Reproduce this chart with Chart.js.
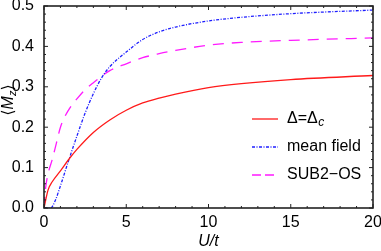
<!DOCTYPE html>
<html>
<head>
<meta charset="utf-8">
<script src="https://cdn.jsdelivr.net/npm/chart.js@4"></script>
<style>
  html, body { margin: 0; padding: 0; background: #fff; }
  canvas { display: block; }
</style>
</head>
<body>
<canvas id="chart" width="381" height="251"></canvas>
<script>
// U/t values and <Mz>
const uDelta = [0, 0.25, 0.5, 1, 1.5, 2, 3, 4, 5, 6, 7, 8, 10, 12, 15, 20];
const mDelta = [0, 0.045, 0.065, 0.092, 0.12, 0.145, 0.187, 0.218, 0.242, 0.26, 0.272, 0.282, 0.298, 0.308, 0.318, 0.328];

const uMean = [0, 0.4, 0.7, 1, 1.5, 2, 2.5, 3, 3.5, 4, 5, 6, 7, 8, 10, 12, 15, 20];
const mMean = [0, 0, 0.02, 0.055, 0.118, 0.178, 0.235, 0.283, 0.322, 0.35, 0.386, 0.417, 0.436, 0.448, 0.463, 0.472, 0.481, 0.49];

const uSub = [0, 0.1, 0.25, 0.5, 0.75, 1, 1.5, 2, 2.5, 3, 4, 5, 6, 7, 8, 10, 12, 15, 20];
const mSub = [0, 0.05, 0.085, 0.12, 0.16, 0.2, 0.243, 0.27, 0.293, 0.31, 0.34, 0.357, 0.372, 0.382, 0.39, 0.403, 0.41, 0.415, 0.421];

const seriesNames = ['Δ=Δ', 'mean field', 'SUB2−OS'];
const seriesSubs = ['c', '', ''];
const xTicks = [0, 5, 10, 15, 20];
const yTicks = [0, 0.1, 0.2, 0.3, 0.4, 0.5];

const FONT = "'Liberation Sans', Arial, 'DejaVu Sans', sans-serif";

function pts(xs, ys) {
    return xs.map((x, i) => ({ x: x, y: ys[i] }));
}

// frame with inward ticks on all four sides, like Mathematica
const framePlugin = {
    id: 'frame',
    afterDraw(chart) {
        const ctx = chart.ctx;
        const a = chart.chartArea;
        const xs = chart.scales.x, ys = chart.scales.y;
        ctx.save();
        ctx.strokeStyle = '#222';
        ctx.lineWidth = 1;
        ctx.beginPath();
        for (let u = 0; u <= 20; u++) {
            const px = xs.getPixelForValue(u);
            const len = u % 5 === 0 ? 4 : 2;
            ctx.moveTo(px, a.bottom); ctx.lineTo(px, a.bottom - len);
            ctx.moveTo(px, a.top); ctx.lineTo(px, a.top + len);
        }
        for (let k = 0; k <= 25; k++) {
            const py = ys.getPixelForValue(k * 0.02);
            const len = k % 5 === 0 ? 4 : 2;
            ctx.moveTo(a.left, py); ctx.lineTo(a.left + len, py);
            ctx.moveTo(a.right, py); ctx.lineTo(a.right - len, py);
        }
        ctx.stroke();
        ctx.lineWidth = 1.6;
        ctx.strokeRect(a.left, a.top, a.right - a.left, a.bottom - a.top);

        // axis titles
        ctx.fillStyle = '#000';
        ctx.textBaseline = 'middle';
        ctx.textAlign = 'center';
        ctx.font = 'italic 16px ' + FONT;
        ctx.fillText('U/t', (a.left + a.right) / 2, 242);

        ctx.translate(9, 100);
        ctx.rotate(-Math.PI / 2);
        ctx.textAlign = 'left';
        const f1 = '16px ' + FONT, fi = 'italic 16px ' + FONT, fs = 'italic 11px ' + FONT;
        ctx.font = f1; const wL = ctx.measureText('⟨').width;
        ctx.font = fi; const wM = ctx.measureText('M').width;
        ctx.font = fs; const wz = ctx.measureText('z').width;
        ctx.font = f1; const wR = ctx.measureText('⟩').width;
        let x = -(wL + wM + wz + wR) / 2;
        ctx.font = f1; ctx.fillText('⟨', x, 0); x += wL;
        ctx.font = fi; ctx.fillText('M', x, 0); x += wM;
        ctx.font = fs; ctx.fillText('z', x, 4); x += wz;
        ctx.font = f1; ctx.fillText('⟩', x, 0);
        ctx.restore();
    }
};

// legend drawn inside the frame, bottom right
const legendPlugin = {
    id: 'insideLegend',
    afterDraw(chart) {
        const ctx = chart.ctx;
        const rows = [119, 147, 175];
        const legendDash = [[], [3, 1.5, 1, 1.5], [9, 4]];
        ctx.save();
        chart.data.datasets.forEach((ds, i) => {
            const y = rows[i];
            ctx.strokeStyle = ds.borderColor;
            ctx.lineWidth = ds.borderWidth;
            ctx.setLineDash(legendDash[i]);
            ctx.beginPath();
            ctx.moveTo(252, y);
            ctx.lineTo(278, y);
            ctx.stroke();
            ctx.setLineDash([]);
            ctx.fillStyle = '#000';
            ctx.textBaseline = 'middle';
            ctx.textAlign = 'left';
            ctx.font = '16px ' + FONT;
            ctx.fillText(seriesNames[i], 287, y);
            if (seriesSubs[i]) {
                const w = ctx.measureText(seriesNames[i]).width;
                ctx.font = 'italic 12px ' + FONT;
                ctx.fillText(seriesSubs[i], 287 + w + 0.5, y + 4);
            }
        });
        ctx.restore();
    }
};

const ctx = document.getElementById('chart').getContext('2d');
new Chart(ctx, {
    type: 'line',
    data: {
        datasets: [
            {
                label: seriesNames[0] + seriesSubs[0],
                data: pts(uDelta, mDelta),
                borderColor: '#ff1a1a',
                borderWidth: 1.3
            },
            {
                label: seriesNames[1],
                data: pts(uMean, mMean),
                borderColor: '#1f1fff',
                borderWidth: 1.3,
                borderDash: [3, 1.5, 1, 1.5]
            },
            {
                label: seriesNames[2],
                data: pts(uSub, mSub),
                borderColor: '#ff1aff',
                borderWidth: 1.3,
                borderDash: [11, 8]
            }
        ]
    },
    options: {
        responsive: false,
        animation: false,
        events: [],
        elements: { point: { radius: 0 }, line: { cubicInterpolationMode: 'monotone' } },
        layout: { padding: { left: 0, right: 8, top: 6, bottom: 0 } },
        plugins: { legend: { display: false }, tooltip: { enabled: false } },
        scales: {
            x: {
                type: 'linear',
                min: 0, max: 20,
                afterFit(scale) {
                    scale.height = 43;
                    scale.paddingLeft = 0;
                    scale.paddingRight = 0;
                },
                afterBuildTicks(scale) { scale.ticks = xTicks.map(v => ({ value: v })); },
                grid: { display: false },
                border: { display: false },
                ticks: {
                    color: '#000',
                    padding: -1,
                    maxRotation: 0,
                    font: { family: FONT, size: 16, lineHeight: 1 }
                }
            },
            y: {
                type: 'linear',
                min: 0, max: 0.5,
                afterFit(scale) {
                    scale.width = 44;
                    scale.paddingTop = 0;
                    scale.paddingBottom = 0;
                },
                afterBuildTicks(scale) { scale.ticks = yTicks.map(v => ({ value: v })); },
                grid: { display: false },
                border: { display: false },
                ticks: {
                    color: '#000',
                    padding: 2,
                    callback: v => v.toFixed(1),
                    font: { family: FONT, size: 16, lineHeight: 1 }
                }
            }
        }
    },
    plugins: [framePlugin, legendPlugin]
});
</script>
</body>
</html>
